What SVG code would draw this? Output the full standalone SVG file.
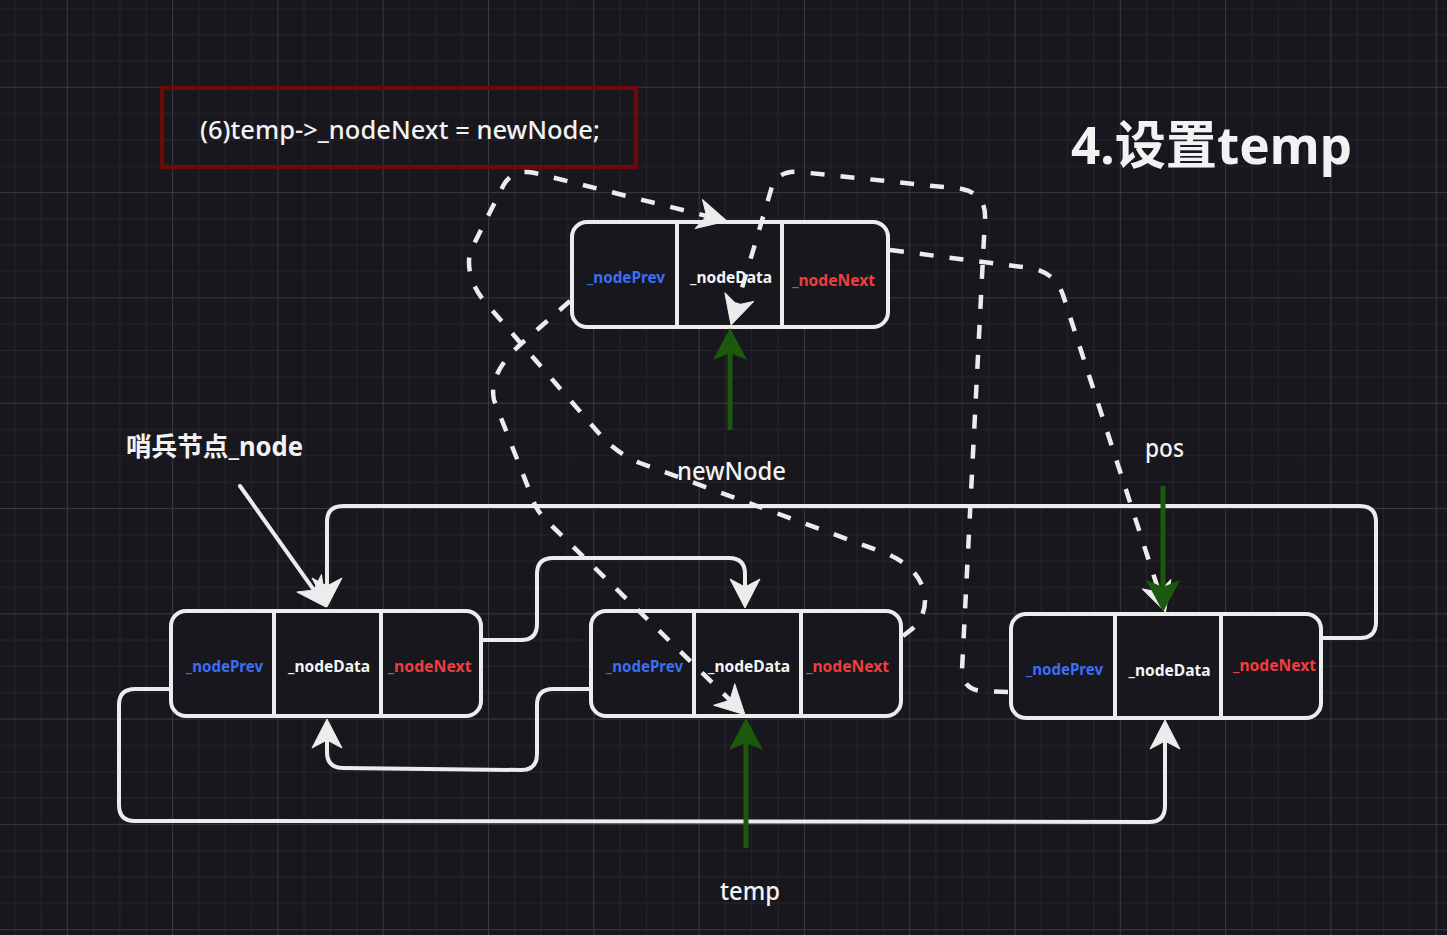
<svg xmlns="http://www.w3.org/2000/svg" width="1447" height="935" viewBox="0 0 1447 935">
<style>
.box{fill:#18171e;stroke:#ececec;stroke-width:4}
.div{stroke:#ececec;stroke-width:4}
.lbl{font-family:"Noto Sans","Liberation Sans",sans-serif;font-weight:700;font-size:15.5px;text-anchor:middle}
.prev{fill:#3b6ef5}
.data{fill:#f4f4f4}
.next{fill:#f03e3e}
.txt{font-family:"Noto Sans","Noto Sans CJK SC",sans-serif;fill:#f2f2f2}
.solid{fill:none;stroke:#ececec;stroke-width:4;stroke-linecap:round;stroke-linejoin:round}
.dash{fill:none;stroke:#ececec;stroke-width:4.5;stroke-dasharray:14 16}
.green{fill:none;stroke:#1b5a0c;stroke-width:5}
</style>
<defs>
<pattern id="grid" width="105.3" height="105.3" patternUnits="userSpaceOnUse" x="66.8" y="86.8">
<path d="M26.8 0V105.3M53.1 0V105.3M79.4 0V105.3M0 26.8H105.3M0 53.1H105.3M0 79.4H105.3" stroke="#26252c" stroke-width="1"/>
<path d="M0.5 0V105.3M0 0.5H105.3" stroke="#3a3940" stroke-width="1"/>
</pattern>
<marker id="aw" markerUnits="userSpaceOnUse" orient="auto" overflow="visible" refX="-14" refY="0" markerWidth="1" markerHeight="1">
<path d="M0,0 L-29,-15 L-21,0 L-29,15 Z" fill="#ececec" stroke="#ececec" stroke-width="1" stroke-linejoin="round"/>
</marker>
<marker id="ag" markerUnits="userSpaceOnUse" orient="auto" overflow="visible" refX="-16" refY="0" markerWidth="1" markerHeight="1">
<path d="M0,0 L-32,-17 L-25,0 L-32,17 Z" fill="#1b5a0c"/>
</marker>
</defs>
<rect width="1447" height="935" fill="#18171e"/>
<rect width="1447" height="935" fill="url(#grid)"/>

<g id="code-box">
<rect x="162" y="88" width="474" height="79" fill="none" stroke="#6a0a0a" stroke-width="4.5"/>
<text class="txt" x="400" y="138.5" font-size="26" font-weight="500" text-anchor="middle" textLength="400" lengthAdjust="spacingAndGlyphs">(6)temp-&gt;_nodeNext = newNode;</text>
</g>

<g id="title">
<text class="txt" x="1071" y="163.5" font-size="52" font-weight="700" textLength="281" lengthAdjust="spacingAndGlyphs" fill="#f7f7f7">4.设置temp</text>
</g>

<g id="node-new">
<rect class="box" x="572" y="222" width="316" height="105" rx="15"/>
<line class="div" x1="677" y1="222" x2="677" y2="328"/>
<line class="div" x1="782" y1="222" x2="782" y2="329"/>
<text class="lbl prev" x="626" y="283" textLength="78" lengthAdjust="spacingAndGlyphs">_nodePrev</text>
<text class="lbl data" x="731" y="283" textLength="82" lengthAdjust="spacingAndGlyphs">_nodeData</text>
<text class="lbl next" x="833.5" y="286" textLength="83" lengthAdjust="spacingAndGlyphs">_nodeNext</text>
</g>

<g id="node-sentinel">
<rect class="box" x="171" y="611" width="310" height="105" rx="15"/>
<line class="div" x1="274" y1="611" x2="274" y2="716"/>
<line class="div" x1="381" y1="611" x2="381" y2="717"/>
<text class="lbl prev" x="224.5" y="671.5" textLength="77" lengthAdjust="spacingAndGlyphs">_nodePrev</text>
<text class="lbl data" x="329" y="671.5" textLength="82" lengthAdjust="spacingAndGlyphs">_nodeData</text>
<text class="lbl next" x="429.5" y="671.5" textLength="84" lengthAdjust="spacingAndGlyphs">_nodeNext</text>
</g>

<g id="node-temp">
<rect class="box" x="591" y="611" width="310" height="105" rx="15"/>
<line class="div" x1="694" y1="611" x2="694" y2="716"/>
<line class="div" x1="801" y1="611" x2="801" y2="717"/>
<text class="lbl prev" x="644.5" y="671.5" textLength="77" lengthAdjust="spacingAndGlyphs">_nodePrev</text>
<text class="lbl data" x="749" y="671.5" textLength="82" lengthAdjust="spacingAndGlyphs">_nodeData</text>
<text class="lbl next" x="847.5" y="671.5" textLength="83" lengthAdjust="spacingAndGlyphs">_nodeNext</text>
</g>

<g id="node-pos">
<rect class="box" x="1011" y="614" width="310" height="104" rx="15"/>
<line class="div" x1="1115" y1="614" x2="1115" y2="718"/>
<line class="div" x1="1221" y1="614" x2="1221" y2="719"/>
<text class="lbl prev" x="1064.5" y="675" textLength="77" lengthAdjust="spacingAndGlyphs">_nodePrev</text>
<text class="lbl data" x="1169.5" y="676" textLength="82" lengthAdjust="spacingAndGlyphs">_nodeData</text>
<text class="lbl next" x="1274.5" y="670.5" textLength="83" lengthAdjust="spacingAndGlyphs">_nodeNext</text>
</g>

<g id="labels">
<text class="txt" x="126" y="456" font-size="26" font-weight="700" textLength="177" lengthAdjust="spacingAndGlyphs">哨兵节点_node</text>
<text class="txt" x="677" y="480" font-size="25" font-weight="500" textLength="109" lengthAdjust="spacingAndGlyphs">newNode</text>
<text class="txt" x="1145" y="457" font-size="25" font-weight="500" textLength="39" lengthAdjust="spacingAndGlyphs">pos</text>
<text class="txt" x="720" y="900" font-size="25" font-weight="500" textLength="60" lengthAdjust="spacingAndGlyphs">temp</text>
</g>

<g id="connectors">
<path class="solid" d="M240,486 L317.9,595.6" marker-end="url(#aw)"/>
<path class="solid" d="M1323,638 L1360,638 Q1376,638 1376,622 L1376,522 Q1376,506 1360,506 L343,506 Q327,506 327,522 L327,593" marker-end="url(#aw)"/>
<path class="solid" d="M483,640 L521,640 Q537,640 537,624 L537,574 Q537,558 553,558 L729,558 Q745,558 745,574 L745,594" marker-end="url(#aw)"/>
<path class="solid" d="M589,689 L553,689 Q537,689 537,705 L537,754 Q537,770 521,770 L343,768 Q327,768 327,752 L327,733" marker-end="url(#aw)"/>
<path class="solid" d="M169,689 L135,689 Q119,689 119,705 L119,805 Q119,821 135,821 L1149,822 Q1165,822 1165,806 L1165,734" marker-end="url(#aw)"/>

<path class="dash" d="M570,301 L522,343 Q488,373 494,400 L535,505 Q540,515 550,524 L735,705" marker-end="url(#aw)"/>
<path class="dash" d="M903,636 L912,629 Q930,612 923,588 Q915,565 885,553 L640,463 Q620,455 603,438 L485,302 Q465,278 470,252 L503,186 Q513,168 535,173 L713.4,217.7" marker-end="url(#aw)"/>
<path class="dash" d="M1008,692 L982,691 Q963,690 962,670 L985,218 Q986,194 962,189 L800,172 Q776,170 771,190 L735,311.6" marker-end="url(#aw)"/>
<path class="dash" d="M890,250 L1030,268 Q1055,272 1063,295 L1161.2,598.6" marker-end="url(#aw)"/>

<path class="green" d="M1163,486 L1163,596" marker-end="url(#ag)"/>
<path class="green" d="M730,430 L730,344" marker-end="url(#ag)"/>
<path class="green" d="M746,848 L746,734" marker-end="url(#ag)"/>
</g>
</svg>
